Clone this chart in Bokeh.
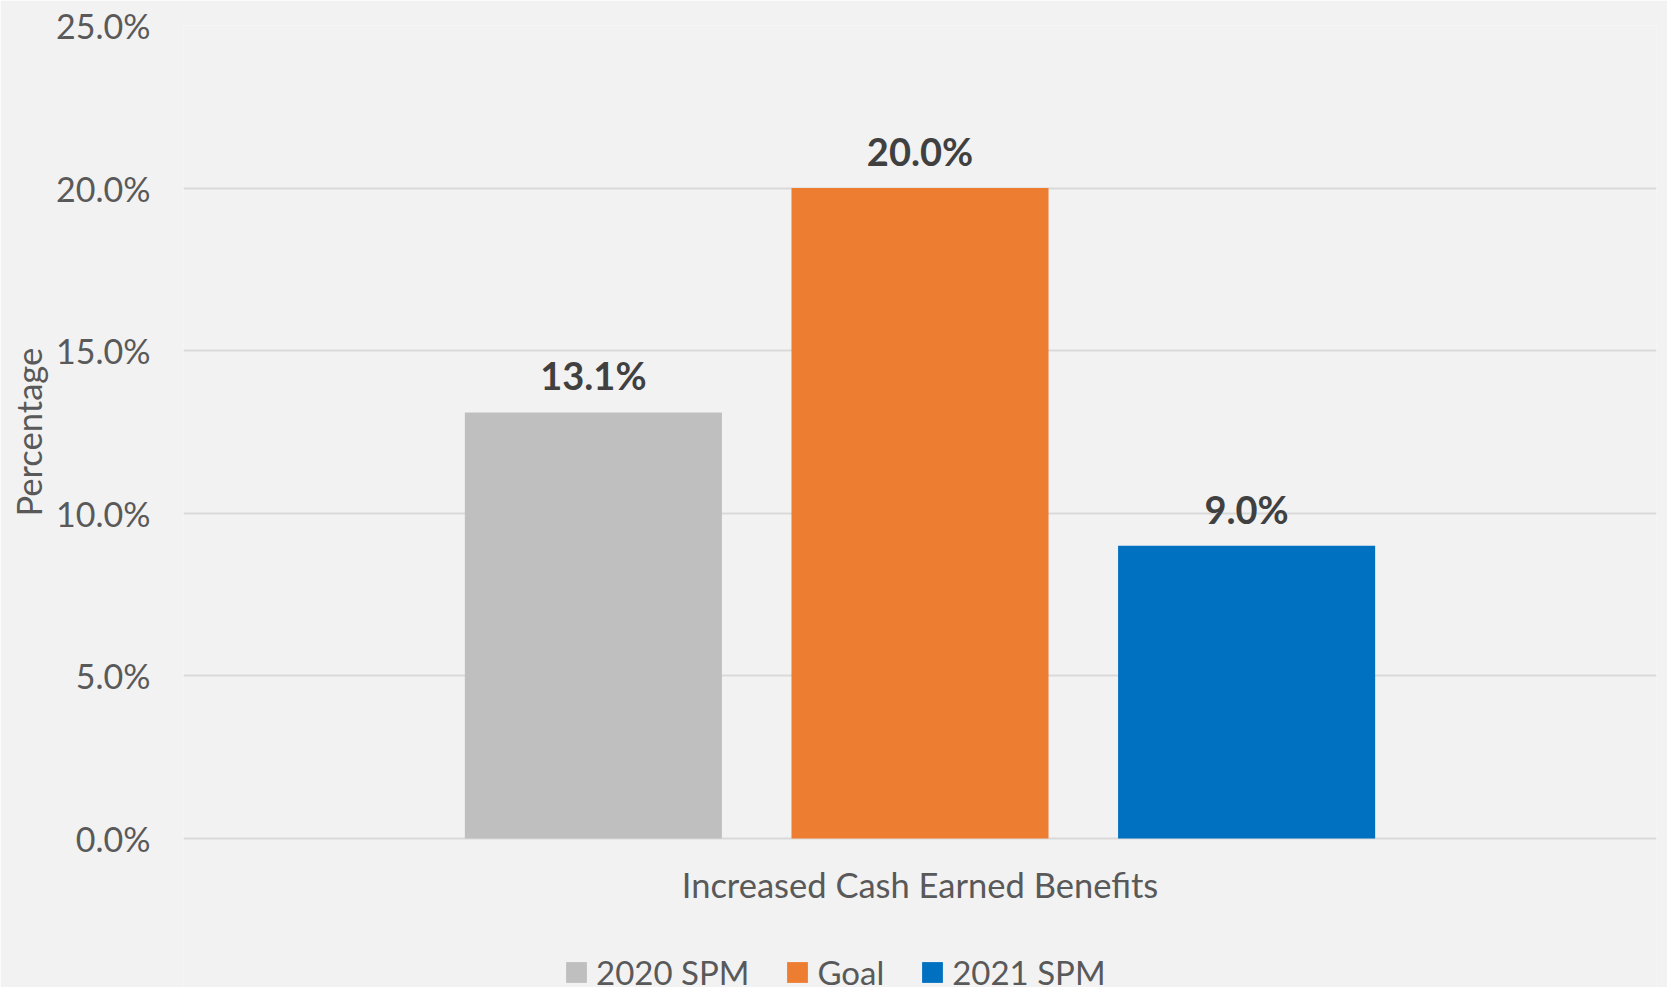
from bokeh.plotting import figure
from bokeh.models import (ColumnDataSource, FactorRange, Range1d, NumeralTickFormatter,
                          LabelSet, Legend, LegendItem, FixedTicker, Title)
from bokeh.embed import file_html
from bokeh.resources import INLINE
from bokeh.core.properties import value

# ---- data ----
categories = ["Increased Cash Earned Benefits"]
series = ["2020 SPM", "Goal", "2021 SPM"]
values = [0.131, 0.200, 0.090]
colors = ["#BFBFBF", "#ED7D31", "#0070C0"]
y_ticks = [0.0, 0.05, 0.10, 0.15, 0.20, 0.25]
y_title = "Percentage"

FONT = "Lato"
BG = "#F2F2F2"
TXT = "#595959"
FS = "34.5px"

factors = [(categories[0], s) for s in series]
source = ColumnDataSource(dict(
    x=factors, top=values, color=colors,
    label=[f"{v * 100:.1f}%" for v in values],
))

# frame spans to the bottom of the canvas so the legend can sit inside it;
# 0% sits 149px above the bottom edge (813px = 25%)
y_bottom = -0.25 * 149 / 813

p = figure(
    x_range=FactorRange(*factors, range_padding=0.5033),
    y_range=Range1d(y_bottom, 0.25),
    width=1667, height=987,
    output_backend="svg", toolbar_location=None,
    min_border_left=183, min_border_right=11,
    min_border_top=25, min_border_bottom=0,
)
p.background_fill_color = BG
p.border_fill_color = BG
p.outline_line_color = None

r = p.vbar(x="x", top="top", width=0.787, fill_color="color", line_color=None, source=source)

labels = LabelSet(x="x", y="top", text="label", source=source, y_offset=22,
                  text_align="center", text_baseline="alphabetic",
                  text_font=value(FONT), text_font_size="38px", text_font_style="bold",
                  text_color="#404040")
p.add_layout(labels)

# category label under the group
p.text(x=categories, y=[0] * len(categories), text=categories, y_offset=46,
       text_align="center", text_baseline="middle",
       text_font=value(FONT), text_font_size=FS, text_color=TXT)

# y axis
p.yaxis.ticker = FixedTicker(ticks=y_ticks)
p.yaxis.formatter = NumeralTickFormatter(format="0.0%")
p.yaxis.major_label_text_font = FONT
p.yaxis.major_label_text_font_size = "34px"
p.yaxis.major_label_text_color = TXT
p.yaxis.major_label_standoff = 33
p.yaxis.major_tick_out = 0
p.yaxis.major_tick_in = 0
p.yaxis.major_tick_line_color = None
p.yaxis.minor_tick_line_color = None
p.yaxis.axis_line_color = None

ytitle = Title(text=y_title, align="left", offset=471, vertical_align="top",
               standoff=6, text_font=FONT, text_font_size=FS,
               text_font_style="normal", text_color=TXT)
p.add_layout(ytitle, "left")

p.xaxis.visible = False
p.xgrid.grid_line_color = None
p.ygrid.grid_line_color = "#D9D9D9"
p.ygrid.grid_line_width = 2

items = [LegendItem(label=s, renderers=[r], index=i) for i, s in enumerate(series)]
legend = Legend(items=items, orientation="horizontal", location=(380, -5),
                padding=0, margin=0, spacing=35,
                glyph_width=26, glyph_height=26, label_standoff=7,
                label_text_font=FONT, label_text_font_size="33px", label_text_color=TXT,
                background_fill_alpha=0, border_line_alpha=0)
p.add_layout(legend, "center")

open("out.html", "w").write(file_html(p, INLINE))
